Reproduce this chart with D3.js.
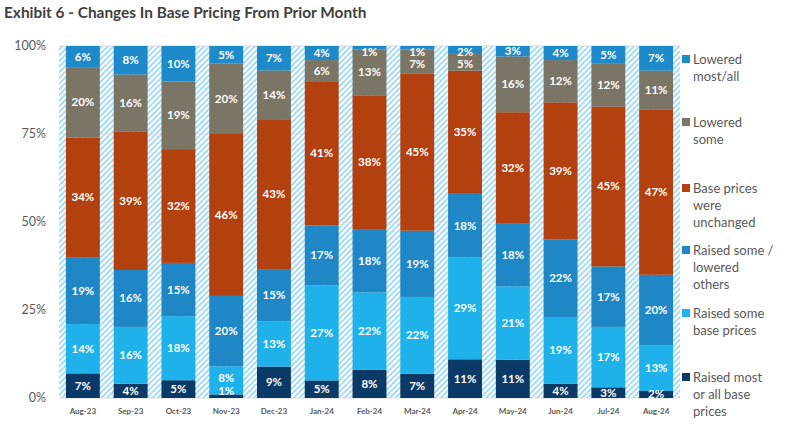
<!DOCTYPE html>
<html>
<head>
<meta charset="utf-8">
<script src="https://cdn.jsdelivr.net/npm/d3@7/dist/d3.min.js"></script>
<style>
body { margin: 0; background: #fff; }
svg { display: block; }
text { font-family: Lato, "Open Sans", sans-serif; }
</style>
</head>
<body>
<svg id="chart" width="788" height="433"></svg>
<script>
const months = ["Aug-23","Sep-23","Oct-23","Nov-23","Dec-23","Jan-24","Feb-24","Mar-24","Apr-24","May-24","Jun-24","Jul-24","Aug-24"];
const seriesKeys = ["raisedMost","raisedSome","raisedLowered","unchanged","loweredSome","loweredMost"];
const raisedMost    = [7, 4, 5, 1, 9, 5, 8, 7, 11, 11, 4, 3, 2];
const raisedSome    = [14, 16, 18, 8, 13, 27, 22, 22, 29, 21, 19, 17, 13];
const raisedLowered = [19, 16, 15, 20, 15, 17, 18, 19, 18, 18, 22, 17, 20];
const unchanged     = [34, 39, 32, 46, 43, 41, 38, 45, 35, 32, 39, 45, 47];
const loweredSome   = [20, 16, 19, 20, 14, 6, 13, 7, 5, 16, 12, 12, 11];
const loweredMost   = [6, 8, 10, 5, 7, 4, 1, 1, 2, 3, 4, 5, 7];
const yTicks = [0, 0.25, 0.5, 0.75, 1];
const yTickLabels = ["0%", "25%", "50%", "75%", "100%"];
const legendLabels = [
  ["Lowered", "most/all"],
  ["Lowered", "some"],
  ["Base prices", "were", "unchanged"],
  ["Raised some /", "lowered", "others"],
  ["Raised some", "base prices"],
  ["Raised most", "or all base", "prices"]
];
const legendKeys = ["loweredMost","loweredSome","unchanged","raisedLowered","raisedSome","raisedMost"];
const colors = {
  raisedMost: "#0b3a66",
  raisedSome: "#1fb1ea",
  raisedLowered: "#1f87c6",
  unchanged: "#b3400f",
  loweredSome: "#7a7565",
  loweredMost: "#1e8ac9"
};
const valuesByKey = { raisedMost, raisedSome, raisedLowered, unchanged, loweredSome, loweredMost };

const rows = months.map((m, i) => {
  const r = { month: m };
  seriesKeys.forEach(k => r[k] = valuesByKey[k][i]);
  return r;
});

const svg = d3.select("#chart");
const plot = { left: 59, right: 680, top: 46, bottom: 398 };

// hatch pattern
const defs = svg.append("defs");
const pat = defs.append("pattern")
  .attr("id", "hatch").attr("patternUnits", "userSpaceOnUse")
  .attr("width", 4).attr("height", 4)
  .attr("patternTransform", "rotate(45)");
pat.append("rect").attr("width", 4).attr("height", 4).attr("fill", "#ffffff");
pat.append("rect").attr("width", 2).attr("height", 4).attr("fill", "#a6dcf4");

// title
svg.append("text")
  .attr("x", 4).attr("y", 18)
  .attr("font-size", 15.4).attr("font-weight", "bold")
  .attr("fill", "#404040")
  .text("Exhibit 6 - Changes In Base Pricing From Prior Month");

const x = d3.scaleBand().domain(months).range([plot.left, plot.right]).paddingInner(0.29).paddingOuter(0.145);
const y = d3.scaleLinear().domain([0, 1]).range([plot.bottom, plot.top]);

// background hatch
svg.append("rect")
  .attr("x", plot.left).attr("y", plot.top)
  .attr("width", plot.right - plot.left).attr("height", plot.bottom - plot.top)
  .attr("fill", "url(#hatch)");

// gridlines
svg.append("g").selectAll("line").data(yTicks).join("line")
  .attr("x1", plot.left).attr("x2", plot.right)
  .attr("y1", d => y(d)).attr("y2", d => y(d))
  .attr("stroke", "#d9d9d9").attr("stroke-width", 1);

// y-axis labels
svg.append("g").selectAll("text").data(yTicks).join("text")
  .attr("x", 46).attr("y", d => y(d) + 4)
  .attr("text-anchor", "end").attr("font-size", 12.5)
  .attr("fill", "#595959")
  .text((d, i) => yTickLabels[i]);

const stack = d3.stack().keys(seriesKeys).offset(d3.stackOffsetExpand);
const stacked = stack(rows);

const layers = svg.append("g").selectAll("g").data(stacked).join("g")
  .attr("fill", d => colors[d.key]);
layers.selectAll("rect").data(d => d).join("rect")
  .attr("x", d => x(d.data.month))
  .attr("width", x.bandwidth())
  .attr("y", d => y(d[1]))
  .attr("height", d => y(d[0]) - y(d[1]));

// value labels
const lbl = svg.append("g");
stacked.forEach((layer, li) => {
  layer.forEach((d, i) => {
    const v = d.data[layer.key];
    let cy = (y(d[0]) + y(d[1])) / 2;
    if (layer.key === "raisedMost" && v <= 1) cy = plot.bottom - 7;
    if (layer.key === "raisedSome" && raisedMost[i] <= 1) cy = Math.min(cy, plot.bottom - 20);
    if (layer.key === "loweredMost" && v <= 2) cy = plot.top + 5.5;
    if (layer.key === "loweredSome" && loweredMost[i] <= 2) cy = Math.max(cy, plot.top + 18);
    lbl.append("text")
      .attr("x", x(d.data.month) + x.bandwidth() / 2)
      .attr("y", cy + 4)
      .attr("text-anchor", "middle")
      .attr("font-size", 11.5).attr("font-weight", "bold")
      .attr("fill", "#ffffff")
      .text(v + "%");
  });
});

// x labels
svg.append("g").selectAll("text").data(months).join("text")
  .attr("x", d => x(d) + x.bandwidth() / 2)
  .attr("y", 414)
  .attr("text-anchor", "middle").attr("font-size", 8)
  .attr("font-weight", "bold").attr("fill", "#595959")
  .text(d => d);

// legend
const legendTops = [59, 122, 188, 250, 313, 377];
const lg = svg.append("g");
legendKeys.forEach((k, i) => {
  const ty = legendTops[i];
  lg.append("rect").attr("x", 682).attr("y", ty - 4).attr("width", 8).attr("height", 8)
    .attr("fill", colors[k]);
  legendLabels[i].forEach((line, j) => {
    lg.append("text").attr("x", 693).attr("y", ty + 5 + j * 16.8)
      .attr("font-size", 13).attr("fill", "#595959")
      .text(line);
  });
});
</script>
</body>
</html>
